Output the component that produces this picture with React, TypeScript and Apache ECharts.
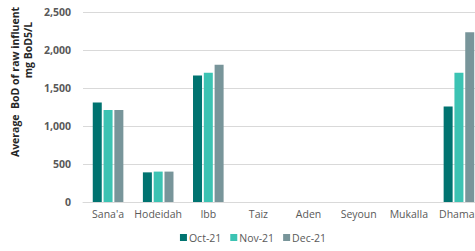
import React, { useEffect, useRef } from "react";
import * as echarts from "echarts";

const categories = ["Sana'a", "Hodeidah", "Ibb", "Taiz", "Aden", "Seyoun", "Mukalla", "Dhamar"];
const oct21 = [1310, 390, 1665, null, null, null, null, 1255];
const nov21 = [1210, 400, 1700, null, null, null, null, 1700];
const dec21 = [1210, 400, 1805, null, null, null, null, 2235];
const yTicks = { min: 0, max: 2500, interval: 500 };

export default function App() {
  const ref = useRef<HTMLDivElement>(null);
  useEffect(() => {
    if (!ref.current) return;
    const chart = echarts.init(ref.current, null, { renderer: "svg" });
    const labelFont = "Open Sans";
    chart.setOption({
      animation: false,
      grid: { left: 83, right: 22, top: 12, bottom: 49, containLabel: false },
      legend: {
        bottom: 3,
        left: "center",
        itemWidth: 7,
        itemHeight: 7,
        itemGap: 9,
        icon: "rect",
        textStyle: { color: "#595959", fontSize: 10.5, fontFamily: labelFont, padding: [0, 0, 0, -3] },
        data: ["Oct-21", "Nov-21", "Dec-21"],
      },
      xAxis: {
        type: "category",
        data: categories,
        axisTick: { show: false },
        axisLine: { lineStyle: { color: "#d9d9d9" } },
        axisLabel: { color: "#595959", fontSize: 10.5, fontFamily: labelFont, margin: 6, interval: 0 },
      },
      yAxis: {
        type: "value",
        min: yTicks.min,
        max: yTicks.max,
        interval: yTicks.interval,
        axisLabel: {
          color: "#595959",
          fontSize: 10.5,
          fontWeight: "bold",
          fontFamily: labelFont,
          margin: 12,
          formatter: (v: number) => v.toLocaleString("en-US"),
        },
        splitLine: { lineStyle: { color: "#d9d9d9" } },
        axisLine: { show: false },
        axisTick: { show: false },
      },
      graphic: [
        {
          type: "text",
          x: 15,
          y: 82,
          rotation: Math.PI / 2,
          style: {
            text: "Average  BoD of raw influent",
            fill: "#262626",
            font: "bold 10.5px 'Open Sans'",
            textAlign: "center",
            textVerticalAlign: "middle",
          },
        },
        {
          type: "text",
          x: 28,
          y: 50,
          rotation: Math.PI / 2,
          style: {
            text: "mg BoD5/L",
            fill: "#262626",
            font: "bold 10.5px 'Open Sans'",
            textAlign: "center",
            textVerticalAlign: "middle",
          },
        },
      ],
      series: [
        { name: "Oct-21", type: "bar", data: oct21, barWidth: 9, barGap: "20%", itemStyle: { color: "#007370" } },
        { name: "Nov-21", type: "bar", data: nov21, barWidth: 9, barGap: "20%", itemStyle: { color: "#3CC3B3" } },
        { name: "Dec-21", type: "bar", data: dec21, barWidth: 9, barGap: "20%", itemStyle: { color: "#78959A" } },
      ],
    });
    return () => chart.dispose();
  }, []);
  return (
    <div style={{ position: "fixed", left: 0, top: 0, width: 475, height: 251, overflow: "hidden", background: "#fff" }}>
      <div ref={ref} style={{ width: 506, height: 251 }} />
    </div>
  );
}
